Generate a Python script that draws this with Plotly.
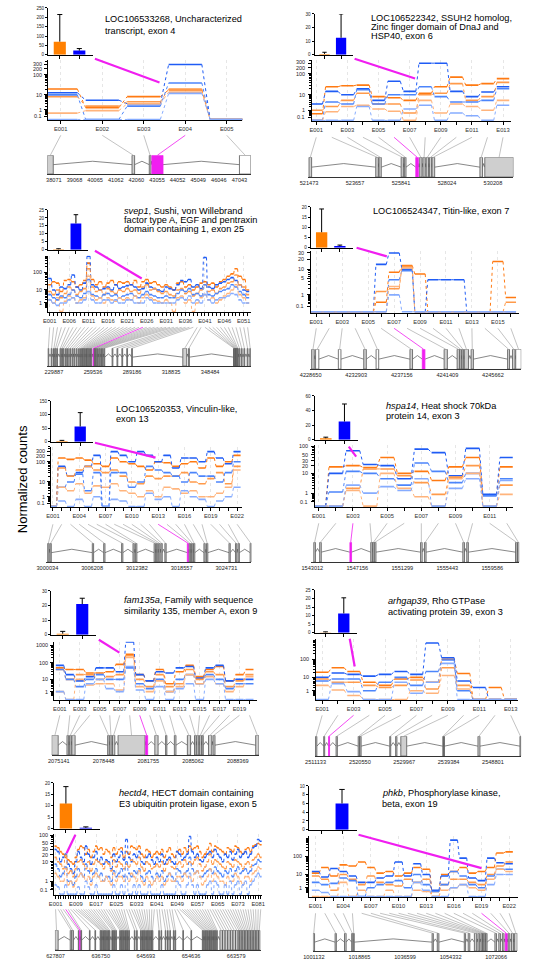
import numpy as np
import plotly.graph_objects as go

W, H = 547, 970

# ======================= DATA =======================
# ---- Panel 1
p1_title = ["LOC106533268, Uncharacterized", "transcript, exon 4"]
p1_bar = [70, 22]
p1_bar_err = [145, 11]
p1_bar_ticks = [0, 50, 100, 150, 200, 250]
p1_orange = [[20, 1.5, 8, 18, 0], [8, 2, 4, 20, 0], [0.4, 0.8, 3, 14, 0]]
p1_blue = [[13, 5, 3, 300, 0], [10, 0, 2, 40, 0], [0, 0, 0, 12, 0]]
p1_yticks = [0.1, 1, 10, 100, 200, 300]
p1_exons = [(37756, 38040), (41848, 41974), (42683, 42762), (42809, 43347), (47043, 47594)]
p1_gticks = [38071, 39068, 40065, 41062, 42060, 43055, 44052, 45049, 46046, 47043]
p1_hl = 4
p1_pointer = (3.38, 42)

# ---- Panel 2
p2_title = ["LOC106522342, SSUH2 homolog,", "Zinc finger domain of DnaJ and", "HSP40, exon 6"]
p2_bar = [0.6, 12.5]
p2_bar_err = [1.2, 17.5]
p2_bar_ticks = [0, 10, 20, 30]
p2_orange = [
    [0.4, 25, 28, 30, 8, 7, 5, 12, 25, 70, 30, 35, 60],
    [1, 2, 5, 12, 3, 3, 0.5, 10, 12, 35, 5, 8, 40],
    [0, 0.7, 2, 2.5, 1.3, 0.8, 0, 5, 0.5, 3, 2, 1, 5],
]
p2_blue = [
    [3, 15, 10, 20, 5, 45, 15, 300, 300, 15, 8, 14, 25],
    [0, 4, 3, 18, 3, 10, 10, 25, 8, 4, 4, 5, 20],
    [0, 0, 0, 2, 0, 0, 1.3, 2.5, 0, 0.5, 0.2, 0, 2.5],
]
p2_yticks = [0.1, 1, 10, 100, 200, 300]
p2_exons = [(521473, 521597), (524642, 524766), (524797, 524905), (525848, 525956), (526003, 526080),
            (526544, 526667), (526729, 526838), (526884, 526992), (527039, 527147), (527193, 527301),
            (527317, 527441), (529590, 529714), (529821, 531182)]
p2_gticks = [521473, 523657, 525841, 528024, 530208]
p2_hl = 6
p2_pointer = (7.35, 61)

# ---- Panel 3
p3_title = ["<i>svep1</i>, Sushi, von Willebrand", "factor type A, EGF and pentraxin", "domain containing 1, exon 25"]
p3_bar = [0.3, 16.5]
p3_bar_err = [0.3, 5.5]
p3_bar_ticks = [0, 5, 10, 15, 20, 25]
p3_orange = [
    [20, 30, 25, 8, 35, 40, 30, 15, 20, 35,
     300, 40, 20, 30, 15, 25, 35, 20, 30, 25,
     30, 20, 35, 15, 30, 40, 25, 30, 20, 15,
     20, 15, 10, 25, 30, 15, 20, 10, 15, 25,
     30, 20, 25, 15, 30, 40, 60, 80, 150, 60,
     40, 10],
    [8, 5, 10, 3, 6, 15, 10, 5, 8, 12,
     150, 15, 8, 10, 5, 12, 8, 6, 10, 8,
     12, 8, 10, 6, 15, 20, 10, 12, 8, 6,
     8, 5, 4, 10, 12, 6, 8, 4, 6, 10,
     20, 8, 10, 6, 12, 15, 25, 30, 70, 20,
     15, 5],
    [2, 1, 3, 0, 1.5, 4, 3, 1, 2, 3,
     60, 4, 2, 3, 1, 3, 2, 1.5, 3, 2,
     3, 2, 4, 1, 3, 5, 3, 2, 1.5, 1,
     2, 1, 0, 3, 4, 1, 2, 0, 1, 3,
     5, 2, 3, 1, 2, 4, 6, 10, 20, 5,
     3, 1],
]
p3_blue = [
    [45, 10, 5, 15, 12, 20, 70, 15, 10, 25,
     700, 20, 15, 10, 12, 15, 10, 20, 12, 15,
     18, 20, 15, 10, 12, 25, 15, 12, 10, 8,
     15, 12, 10, 20, 35, 30, 40, 15, 20, 12,
     600, 15, 12, 20, 25, 30, 40, 50, 35, 20,
     10, 8],
    [5, 3, 2, 4, 3, 5, 10, 4, 3, 6,
     40, 5, 4, 3, 5, 6, 4, 5, 3, 4,
     5, 6, 4, 3, 5, 8, 5, 4, 3, 3,
     4, 3, 3, 6, 10, 8, 12, 5, 6, 4,
     20, 5, 4, 6, 8, 10, 12, 20, 15, 8,
     5, 3],
    [2, 1, 0.5, 1, 1, 2, 3, 1, 1, 2,
     8, 2, 1, 1, 2, 2, 1, 2, 1, 1,
     2, 2, 1, 1, 1, 3, 2, 1, 1, 1,
     1, 1, 1, 2, 3, 2, 4, 1, 2, 1,
     5, 2, 1, 2, 3, 3, 4, 6, 5, 2,
     1, 1],
]
p3_yticks = [1, 10, 100]
p3_exons = [(225386, 225986), (227857, 228457), (229587, 230187), (230823, 231423), (232058, 232658),
            (234529, 235129), (235765, 236365), (237000, 237600), (238730, 239330), (240213, 240813),
            (241943, 242543), (243672, 244272), (245155, 245755), (246885, 247485), (248615, 249215),
            (250096, 250696), (251085, 251685), (252073, 252673), (253062, 253662), (254050, 254650),
            (255038, 255638), (256027, 256627), (257015, 257615), (258004, 258604), (259600, 260200),
            (260500, 261000), (260969, 261569), (261958, 262558), (262946, 263546), (264181, 264781),
            (265417, 266017), (266652, 267252), (267888, 268488), (274065, 274665), (277772, 278372),
            (281478, 282078), (285185, 285785), (288891, 289491), (327740, 330700), (332133, 332733),
            (366232, 366832), (366726, 367326), (367220, 367820), (367715, 368315), (368209, 368809),
            (368703, 369303), (369197, 369797), (370434, 371034), (372164, 372764), (374141, 374741),
            (376612, 377212), (378588, 379188)]
p3_gticks = [229887, 259536, 289186, 318835, 348484]
p3_hl = 25
p3_pointer = (24.7, 45)

# ---- Panel 4
p4_title = ["LOC106524347, Titin-like, exon 7"]
p4_bar = [7.6, 0.8]
p4_bar_err = [11.4, 0.5]
p4_bar_ticks = [0, 5, 10, 15, 20]
p4_orange = [
    [0, 0, 0, 0, 0, 0.3, 8, 13, 7, 0, 0, 0, 0, 0, 17, 0.7],
    [0, 0, 0, 0, 0, 1.5, 2, 12, 0, 0, 0, 0, 0, 0, 0, 0.3],
    [0, 0, 0, 0, 0, 0, 2.5, 11, 0, 0, 0, 0, 0, 0, 0, 0],
]
p4_blue = [
    [0, 0, 0, 0, 0, 14, 30, 10, 0, 4.5, 4.5, 4.5, 0, 0, 0, 0],
    [0, 0, 0, 0, 0, 0, 4.5, 9, 0, 0, 0, 0, 0, 0, 0, 0],
    [0, 0, 0, 0, 0, 0, 1, 0, 0, 0, 0, 0, 0, 0, 0, 0],
]
p4_yticks = [0.1, 1, 5, 10, 20, 30]
p4_exons = [(4228741, 4228984), (4229106, 4229410), (4231232, 4231475), (4233602, 4233845), (4234756, 4234999),
            (4237916, 4238159), (4239070, 4239313), (4241106, 4241410), (4242321, 4242534), (4242564, 4242716),
            (4242777, 4242929), (4242990, 4243385), (4243627, 4243840), (4247030, 4247212), (4247486, 4247729),
            (4247790, 4248306)]
p4_gticks = [4228650, 4232903, 4237156, 4241409, 4245662]
p4_hl = 7
p4_pointer = (6.44, 24)

# ---- Panel 5
p5_title = ["LOC106520353, Vinculin-like,", "exon 13"]
p5_bar = [3, 56]
p5_bar_err = [2, 51]
p5_bar_ticks = [0, 50, 100, 150]
p5_orange = [
    [0, 150, 130, 150, 120, 80, 60, 150, 100, 80, 60, 40, 100, 90, 60, 80, 100, 50, 150, 60, 100, 200],
    [0, 50, 20, 40, 60, 40, 30, 40, 20, 10, 8, 20, 15, 20, 20, 30, 10, 8, 15, 30, 8, 60],
    [0, 5, 3, 8, 2, 6, 5, 8, 3, 2, 1, 3, 1, 5, 4, 2, 3, 1, 1, 2, 5, 40],
]
p5_blue = [
    [0, 60, 20, 30, 60, 200, 0, 300, 200, 100, 300, 200, 100, 200, 50, 150, 150, 100, 300, 150, 80, 300],
    [0, 5, 10, 25, 3, 30, 0, 30, 30, 5, 10, 60, 40, 30, 20, 10, 30, 20, 20, 10, 30, 100],
    [0, 0.3, 0, 0.5, 0, 1, 0, 0.5, 0.3, 0, 0, 2, 0.5, 1, 0, 3, 1, 0.5, 0, 0.3, 1, 5],
]
p5_yticks = [0.1, 1, 10, 100, 200, 300]
p5_exons = [(3000079, 3000259), (3000393, 3000573), (3006230, 3006410), (3007802, 3007982), (3010271, 3010451),
            (3011843, 3012023), (3012202, 3012382), (3014761, 3014941), (3015075, 3015255), (3015390, 3015570),
            (3015704, 3015884), (3016243, 3016423), (3019341, 3019521), (3019610, 3019790), (3019925, 3020105),
            (3020194, 3020374), (3021631, 3021811), (3021990, 3022170), (3025088, 3025268), (3025986, 3026166),
            (3026345, 3026525), (3028007, 3028187)]
p5_gticks = [3000034, 3006208, 3012382, 3018557, 3024731]
p5_hl = 13
p5_pointer = (12.7, 158)

# ---- Panel 6
p6_title = ["<i>hspa14</i>, Heat shock 70kDa", "protein 14, exon 3"]
p6_bar = [2, 25]
p6_bar_err = [1.5, 24]
p6_bar_ticks = [0, 20, 40, 60]
p6_orange = [
    [0, 18, 20, 17, 40, 10, 12, 5, 18, 40, 0.7, 18],
    [0, 0, 2, 15, 15, 8, 4, 0.8, 7, 20, 0, 3],
    [0, 0, 1.5, 0, 10, 2, 0.5, 0, 6, 10, 0, 0.8],
]
p6_blue = [
    [0, 10, 70, 22, 20, 6, 80, 60, 8, 85, 0.8, 40],
    [0, 1.2, 12, 10, 6, 3, 25, 12, 4, 10, 0.6, 6],
    [0, 0, 3, 1, 2.5, 1.5, 6, 0, 2, 6, 0, 5],
]
p6_yticks = [0.1, 1, 10, 20, 30, 50, 100]
p6_exons = [(1543147, 1543297), (1543686, 1543836), (1546473, 1546623), (1548392, 1548542), (1548571, 1548721),
            (1548721, 1548871), (1552977, 1553127), (1553337, 1553487), (1556873, 1557023), (1557233, 1557383),
            (1561728, 1561878), (1561908, 1562058)]
p6_gticks = [1543012, 1547156, 1551299, 1555443, 1559586]
p6_hl = 3
p6_pointer = (3.19, 43)

# ---- Panel 7
p7_title = ["<i>fam135a</i>, Family with sequence", "similarity 135, member A, exon 9"]
p7_bar = [0.7, 21]
p7_bar_err = [1.6, 4]
p7_bar_ticks = [0, 10, 20, 30]
p7_orange = [
    [50, 40, 40, 25, 25, 30, 80, 300, 20, 8, 40, 5, 30, 70, 15, 40, 60, 8, 20, 40],
    [40, 10, 20, 20, 10, 15, 20, 250, 10, 3, 20, 3, 5, 40, 10, 30, 20, 3, 8, 20],
    [1, 0, 10, 4, 5, 5, 1.5, 200, 3, 1, 8, 1, 3, 20, 5, 15, 5, 1, 3, 15],
]
p7_blue = [
    [70, 20, 8, 15, 50, 50, 30, 1500, 20, 8, 30, 25, 50, 60, 12, 50, 70, 8, 10, 10],
    [40, 10, 3, 10, 20, 10, 10, 50, 5, 2, 10, 1, 10, 20, 5, 20, 10, 2, 5, 5],
    [1, 0, 0, 5, 10, 2, 1, 60, 1.5, 0, 3, 0, 2, 5, 0, 10, 5, 0, 0, 0],
]
p7_yticks = [1, 10, 100, 1000]
p7_exons = [(2074612, 2075093), (2075742, 2075863), (2075935, 2076055), (2076103, 2076344), (2078749, 2078869),
            (2078917, 2079061), (2079109, 2079278), (2079518, 2081514), (2081562, 2081707), (2082236, 2082477),
            (2083030, 2083126), (2083679, 2083799), (2084641, 2084881), (2085170, 2085290), (2085338, 2085483),
            (2085531, 2085675), (2085723, 2085819), (2086204, 2086445), (2086541, 2086685), (2089691, 2089932)]
p7_gticks = [2075141, 2078448, 2081755, 2085062, 2088369]
p7_hl = 9
p7_pointer = (6.97, 377)

# ---- Panel 8
p8_title = ["<i>arhgap39</i>, Rho GTPase", "activating protein 39, exon 3"]
p8_bar = [0.2, 11.3]
p8_bar_err = [0.3, 9.1]
p8_bar_ticks = [0, 5, 10, 15, 20, 25]
p8_orange = [
    [20, 35, 22, 5, 3, 8, 10, 5, 100, 17, 0, 2, 0],
    [8, 5, 5, 3, 2, 3, 7, 1.5, 35, 3, 0, 0, 0],
    [3, 1.2, 0.2, 0, 0, 0, 1, 0.5, 13, 1.5, 0, 0, 0],
]
p8_blue = [
    [10, 18, 15, 12, 15, 22, 15, 700, 120, 6, 2, 0, 0],
    [6, 8, 8, 1, 5, 10, 3, 22, 90, 1, 0, 0, 0],
    [0, 4, 0.8, 0, 0, 5, 0.5, 5, 60, 0, 0, 0, 0],
]
p8_yticks = [1, 10, 100]
p8_exons = [(2511133, 2511409), (2512861, 2513068), (2513898, 2514105), (2515488, 2515764), (2520188, 2520464),
            (2520533, 2520810), (2526892, 2527100), (2528137, 2528413), (2529242, 2530487), (2538159, 2538297),
            (2538367, 2538505), (2545624, 2546039), (2554540, 2554748)]
p8_gticks = [2511133, 2520550, 2529967, 2539384, 2548801]
p8_hl = 3
p8_pointer = (3.07, 41)

# ---- Panel 9
p9_title = ["<i>hectd4</i>, HECT domain containing", "E3 ubiquitin protein ligase, exon 5"]
p9_bar = [11, 0.4]
p9_bar_err = [7.4, 0.4]
p9_bar_ticks = [0, 5, 10, 15, 20]
p9_orange = [
    [40, 35, 25, 20, 15, 12, 10, 8, 15, 30,
     40, 35, 20, 30, 15, 25, 40, 30, 35, 20,
     30, 25, 15, 35, 20, 30, 35, 15, 25, 20,
     40, 35, 30, 40, 20, 15, 30, 25, 15, 20,
     25, 20, 30, 15, 25, 35, 20, 15, 25, 30,
     20, 35, 25, 40, 30, 35, 40, 25, 15, 20,
     30, 50, 25, 40, 35, 30, 25, 20, 35, 30,
     25, 40, 35, 25, 20, 30, 35, 25, 40, 45,
     50, 45],
    [15, 10, 8, 5, 18, 3, 4, 2, 5, 10,
     12, 8, 5, 10, 4, 8, 12, 10, 8, 5,
     10, 8, 4, 12, 6, 10, 8, 5, 8, 6,
     12, 10, 8, 15, 6, 4, 10, 8, 5, 6,
     8, 6, 10, 4, 8, 12, 6, 5, 8, 10,
     6, 12, 8, 10, 8, 12, 15, 8, 4, 6,
     10, 20, 8, 12, 10, 8, 6, 5, 10, 8,
     6, 12, 10, 8, 5, 8, 10, 6, 12, 15,
     20, 15],
    [3, 2, 1, 1, 5, 0.5, 1, 0.3, 1, 2,
     3, 2, 1, 2, 0.5, 2, 3, 2, 1, 1,
     2, 1, 0.5, 3, 1, 2, 2, 1, 2, 1,
     3, 2, 1, 4, 1, 0.5, 2, 1, 0.5, 1,
     2, 1, 2, 0.5, 1, 3, 1, 1, 2, 2,
     1, 3, 2, 2, 1, 3, 4, 2, 0.5, 1,
     2, 5, 1, 3, 2, 1, 1, 0.5, 2, 1,
     1, 3, 2, 1, 0.5, 2, 2, 1, 3, 4,
     6, 5],
]
p9_blue = [
    [30, 25, 10, 15, 20, 8, 5, 3, 10, 25,
     15, 10, 40, 20, 8, 15, 25, 10, 15, 8,
     12, 10, 5, 20, 10, 15, 25, 12, 70, 15,
     10, 20, 15, 25, 10, 8, 15, 20, 12, 8,
     15, 10, 20, 8, 12, 15, 10, 8, 25, 20,
     12, 15, 20, 90, 25, 15, 20, 12, 10, 15,
     20, 25, 15, 30, 20, 15, 10, 20, 15, 25,
     12, 20, 30, 15, 20, 25, 15, 20, 35, 40,
     70, 60],
    [8, 5, 2, 3, 6, 1, 1, 0.5, 2, 5,
     3, 2, 8, 4, 1, 3, 5, 2, 3, 1,
     2, 2, 1, 4, 2, 3, 5, 2, 10, 3,
     2, 4, 3, 5, 2, 1, 3, 4, 2, 1,
     3, 2, 4, 1, 2, 3, 2, 1, 5, 4,
     2, 3, 4, 15, 5, 3, 4, 2, 2, 3,
     4, 5, 3, 6, 4, 3, 2, 4, 3, 5,
     2, 4, 6, 3, 4, 5, 3, 4, 7, 8,
     12, 10],
    [0.5, 0.3, 0, 0, 0.5, 0, 0, 0, 0, 0.3,
     0, 0, 1, 0.3, 0, 0, 0.5, 0, 0, 0,
     0, 0, 0, 0.5, 0, 0, 0.5, 0, 2, 0,
     0, 0.5, 0, 0.5, 0, 0, 0, 0.5, 0, 0,
     0, 0, 0.5, 0, 0, 0, 0, 0, 1, 0.5,
     0, 0, 0.5, 3, 0.5, 0, 0.5, 0, 0, 0,
     0.5, 1, 0, 1, 0.5, 0, 0, 0.5, 0, 1,
     0, 0.5, 1, 0, 0.5, 1, 0, 0.5, 1, 2,
     3, 2],
]
p9_yticks = [0.1, 1, 10, 20, 30, 50, 100]
p9_exons = [(627680, 628320), (630707, 631030), (631030, 631352), (632318, 632448), (632576, 632706),
            (632834, 632964), (634509, 634639), (635605, 635735), (636636, 636766), (636894, 637024),
            (637152, 637282), (637410, 637540), (637667, 637797), (637925, 638055), (638183, 638313),
            (638441, 638571), (638956, 639086), (639214, 639344), (639472, 639602), (639730, 639860),
            (640503, 640633), (640761, 640891), (641019, 641149), (641277, 641407), (641534, 641664),
            (641792, 641922), (642050, 642180), (642308, 642438), (643403, 643533), (643855, 643985),
            (644628, 644758), (644886, 645016), (645144, 645274), (645401, 645531), (645659, 645789),
            (645917, 646047), (646175, 646305), (646433, 646563), (646690, 646820), (646948, 647078),
            (648237, 648367), (648688, 648818), (649526, 649656), (649977, 650107), (650428, 650558),
            (651137, 651267), (651460, 651590), (653006, 653136), (654618, 654748), (656873, 657003),
            (657131, 657261), (657389, 657519), (657647, 657777), (657905, 658035), (658162, 658292),
            (658420, 658550), (658678, 658808), (658936, 659066), (659194, 659324), (659451, 659581),
            (659709, 659839), (660354, 660850), (660870, 661380), (661390, 661900), (661910, 662420),
            (662430, 662930), (662940, 663440), (663450, 663960), (663966, 664270), (664280, 664580),
            (664590, 664890), (664900, 665200), (665210, 665510), (665520, 665820), (665830, 666130),
            (666140, 666440), (666450, 666750), (666760, 667060), (667070, 667370), (667380, 667680),
            (667690, 667990), (668000, 668300)]
p9_gticks = [627807, 636750, 645693, 654636, 663579]
p9_hl = 5
p9_pointer = (5.34, 21.5)

# ---- Panel 10
p10_title = ["<i>phkb</i>, Phosphorylase kinase,", "beta, exon 19"]
p10_bar = [0, 6]
p10_bar_err = [0, 3.2]
p10_bar_ticks = [0, 2, 4, 6, 8, 10]
p10_orange = [
    [12, 25, 8, 35, 30, 50, 25, 12, 15, 8, 12, 25, 20, 0.3, 10, 15, 25, 12, 15, 25, 150, 170],
    [8, 5, 0.5, 10, 5, 2, 8, 3, 2, 1.5, 5, 3, 5, 0, 2, 5, 5, 3, 2, 10, 30, 50],
    [0, 0, 0, 3, 0, 0.5, 0, 0, 0.5, 0, 0, 0.5, 0.3, 0, 0.5, 1, 2, 1, 0.5, 5, 20, 15],
]
p10_blue = [
    [15, 7, 22, 15, 8, 3, 3, 6, 8, 50, 8, 40, 10, 0.5, 8, 700, 80, 6, 4, 80, 45, 40],
    [3, 2, 2.5, 6, 4, 0, 1, 2, 3, 4, 1, 10, 2, 0.3, 2, 15, 8, 2, 1, 8, 20, 20],
    [0.5, 0.2, 0, 0, 0, 0, 0, 0, 0, 0, 0, 3, 0.5, 0, 0, 1, 2, 0, 0, 2, 10, 10],
]
p10_yticks = [1, 10, 100]
p10_exons = [(1000752, 1001385), (1009366, 1009872), (1013039, 1013672), (1015826, 1016332), (1016459, 1016839),
             (1047113, 1047620), (1049140, 1049773), (1059654, 1060160), (1061174, 1061807), (1063580, 1064467),
             (1064974, 1065607), (1066114, 1066620), (1066747, 1067254), (1067380, 1067887), (1068013, 1068520),
             (1071567, 1072200), (1073080, 1073713), (1074474, 1075107), (1075614, 1076374), (1076754, 1077387),
             (1078020, 1078780), (1079160, 1080300)]
p10_gticks = [1001132, 1018865, 1036599, 1054332, 1072066]
p10_hl = 19
p10_pointer = (19.0, 23)

# ======================= LAYOUT (pixel boxes per panel) =======================
PANELS = [
    dict(title=p1_title, bar=p1_bar, err=p1_bar_err, bticks=p1_bar_ticks, orange=p1_orange, blue=p1_blue,
         yticks=p1_yticks, exons=p1_exons, gticks=p1_gticks, hl=p1_hl, ptr=p1_pointer, step=1,
         L=dict(bar=(39, 85, 6, 53), title=(95, 17, 12), line=(39, 238, 58, 119), xr=(0.694, 5.376), vmax=500,
                ctop=134, gene=(38.3, 246.7, 154, 173), grange=(37756, 47594), pstart=(87, 57), white=[5])),
    dict(title=p2_title, bar=p2_bar, err=p2_bar_err, bticks=p2_bar_ticks, orange=p2_orange, blue=p2_blue,
         yticks=p2_yticks, exons=p2_exons, gticks=p2_gticks, hl=p2_hl, ptr=p2_pointer, step=2,
         L=dict(bar=(312, 351, 12, 53), title=(368, 16, 9.3), line=(309, 513, 58, 120), xr=(0.705, 13.5), vmax=430,
                ctop=136, gene=(305.3, 515.7, 156, 176), grange=(521427, 531182), pstart=(353, 57), white=[])),
    dict(title=p3_title, bar=p3_bar, err=p3_bar_err, bticks=p3_bar_ticks, orange=p3_orange, blue=p3_blue,
         yticks=p3_yticks, exons=p3_exons, gticks=p3_gticks, hl=p3_hl, ptr=p3_pointer, step=5,
         L=dict(bar=(39, 80, 209, 249), title=(115, 210, 9.3), line=(39, 247, 255, 312), xr=(0.57, 52.9), vmax=747,
                ctop=327, gene=(38.3, 246.7, 348, 366), grange=(224945, 379383), pstart=(87, 250), white=[])),
    dict(title=p4_title, bar=p4_bar, err=p4_bar_err, bticks=p4_bar_ticks, orange=p4_orange, blue=p4_blue,
         yticks=p4_yticks, exons=p4_exons, gticks=p4_gticks, hl=p4_hl, ptr=p4_pointer, step=2,
         L=dict(bar=(308, 351, 206, 247), title=(370, 210, 10), line=(308, 521, 250, 313), xr=(0.57, 16.6), vmax=34.8,
                ctop=328, gene=(307, 523.7, 349, 369), grange=(4228559, 4248306), pstart=(355, 247), white=[2, 3, 5, 16])),
    dict(title=p5_title, bar=p5_bar, err=p5_bar_err, bticks=p5_bar_ticks, orange=p5_orange, blue=p5_blue,
         yticks=p5_yticks, exons=p5_exons, gticks=p5_gticks, hl=p5_hl, ptr=p5_pointer, step=3,
         L=dict(bar=(42, 85, 401, 442), title=(107, 409, 10.3), line=(42, 238, 447, 508), xr=(0.78, 22.6), vmax=512,
                ctop=525, gene=(37.3, 247.3, 544, 563), grange=(2999899, 3028187), pstart=(87, 443), white=[])),
    dict(title=p6_title, bar=p6_bar, err=p6_bar_err, bticks=p6_bar_ticks, orange=p6_orange, blue=p6_blue,
         yticks=p6_yticks, exons=p6_exons, gticks=p6_gticks, hl=p6_hl, ptr=p6_pointer, step=2,
         L=dict(bar=(312, 356, 396, 440), title=(383, 406, 10.3), line=(312, 515, 445, 508), xr=(0.757, 12.35), vmax=115,
                ctop=524, gene=(308.7, 521.7, 543, 563), grange=(1542922, 1562073), pstart=(347, 447), white=[])),
    dict(title=p7_title, bar=p7_bar, err=p7_bar_err, bticks=p7_bar_ticks, orange=p7_orange, blue=p7_blue,
         yticks=p7_yticks, exons=p7_exons, gticks=p7_gticks, hl=p7_hl, ptr=p7_pointer, step=2,
         L=dict(bar=(42, 88, 592, 636), title=(115, 601, 11.3), line=(45, 253, 643, 702), xr=(0.41, 20.75), vmax=1570,
                ctop=717, gene=(42.7, 255, 737, 757), grange=(2074612, 2089932), pstart=(91, 641), white=[])),
    dict(title=p8_title, bar=p8_bar, err=p8_bar_err, bticks=p8_bar_ticks, orange=p8_orange, blue=p8_blue,
         yticks=p8_yticks, exons=p8_exons, gticks=p8_gticks, hl=p8_hl, ptr=p8_pointer, step=2,
         L=dict(bar=(312, 355, 591, 634), title=(385, 602, 11), line=(313, 520, 640, 702), xr=(0.58, 13.44), vmax=1165,
                ctop=717, gene=(312, 523.7, 738, 758), grange=(2510926, 2554817), pstart=(348, 640), white=[])),
    dict(title=p9_title, bar=p9_bar, err=p9_bar_err, bticks=p9_bar_ticks, orange=p9_orange, blue=p9_blue,
         yticks=p9_yticks, exons=p9_exons, gticks=p9_gticks, hl=p9_hl, ptr=p9_pointer, step=8,
         L=dict(bar=(45, 92, 785, 831), title=(110, 795, 11), line=(45, 258, 836, 898), xr=(0.35, 82.45), vmax=113,
                ctop=912, gene=(46, 256.7, 933, 953), grange=(627678, 668411), pstart=(67, 837), white=[])),
    dict(title=p10_title, bar=p10_bar, err=p10_bar_err, bticks=p10_bar_ticks, orange=p10_orange, blue=p10_blue,
         yticks=p10_yticks, exons=p10_exons, gticks=p10_gticks, hl=p10_hl, ptr=p10_pointer, step=3,
         L=dict(bar=(306, 355, 788, 832), title=(379, 795, 11), line=(306, 520, 838, 900), xr=(0.26, 22.92), vmax=1190,
                ctop=916, gene=(310.3, 519.7, 936, 954), grange=(1000752, 1080300), pstart=(357, 837), white=[])),
]

OR = ["#ff7a12", "#ff9a4a", "#ffb47c"]
BL = ["#1f5cf5", "#4c85fb", "#86acff"]
MAG = "#f01ef0"
FONT = "Liberation Sans, Arial, sans-serif"
YLO = -0.05
YLAB_SIZE = 5.4
YLAB_GAP = 5.6


def vst(q):
    return np.arcsinh(np.sqrt(0.3 * np.asarray(q, dtype=float)))


def fmt(t):
    return "%g" % t


def names(n):
    return (("xaxis" if n == 1 else f"xaxis{n}"), ("yaxis" if n == 1 else f"yaxis{n}"),
            ("x" if n == 1 else f"x{n}"), ("y" if n == 1 else f"y{n}"))


def dom_x(a, b):
    return [a / W, b / W]


def dom_y(top, bot):
    return [1 - bot / H, 1 - top / H]


fig = go.Figure()
lay = {}
shapes, annos = [], []
conn_x, conn_y, mag_x, mag_y, ptr_x, ptr_y = [], [], [], [], [], []
axn = 0

for P in PANELS:
    L = P["L"]
    # ---------------- bar inset ----------------
    axn += 1
    xk, yk, xr_, yr_ = names(axn)
    bx0, bx1, by0, by1 = L["bar"]
    bt = P["bticks"]
    lay[xk] = dict(domain=dom_x(bx0, bx1), range=[-0.6, 1.7], anchor=yr_, showline=True, linecolor="black",
                   linewidth=1, ticks="outside", ticklen=3, tickcolor="black", tickvals=[0, 1], ticktext=["", ""],
                   showgrid=False, zeroline=False)
    lay[yk] = dict(domain=dom_y(by0, by1), range=[0, bt[-1]], anchor=xr_, showline=True, linecolor="black",
                   linewidth=1, ticks="outside", ticklen=2, tickcolor="black", tickvals=bt,
                   ticktext=[fmt(t) for t in bt], tickfont=dict(size=4.6, color="#222"), showgrid=False,
                   zeroline=False)
    fig.add_trace(go.Bar(x=[0, 1], y=P["bar"], width=0.62, marker=dict(color=["#ff8000", "#0000ff"], line=dict(width=0)),
                         xaxis=xr_, yaxis=yr_, hoverinfo="skip", cliponaxis=False))
    ex, ey = [], []
    for i, (v, e) in enumerate(zip(P["bar"], P["err"])):
        if e > 0:
            ex += [i, i, None, i - 0.13, i + 0.13, None]
            ey += [v, v + e, None, v + e, v + e, None]
    fig.add_trace(go.Scatter(x=ex, y=ey, mode="lines", line=dict(color="black", width=1), xaxis=xr_, yaxis=yr_,
                             hoverinfo="skip", cliponaxis=False))
    tx, ty, tdy = L["title"]
    for k, s in enumerate(P["title"]):
        annos.append(dict(x=tx / W, y=1 - (ty + k * tdy) / H, xref="paper", yref="paper", xanchor="left",
                          yanchor="middle", text=s, showarrow=False, font=dict(size=9.2, color="black", family=FONT)))

    # ---------------- expression lines ----------------
    axn += 1
    xk, yk, xr_, yr_ = names(axn)
    lx0, lx1, ly0, ly1 = L["line"]
    xr = L["xr"]
    N = len(P["exons"])
    labeled = list(range(1, N + 1, P["step"]))
    yhi = float(vst(L["vmax"]))
    lay[xk] = dict(domain=dom_x(lx0, lx1), range=list(xr), anchor=yr_, showline=True, linecolor="black",
                   linewidth=1, ticks="outside", ticklen=3, tickcolor="black", tickvals=labeled,
                   ticktext=[f"E{i:03d}" for i in labeled], tickfont=dict(size=5.8, color="#333"), tickangle=0,
                   showgrid=True, gridcolor="#e6e6e6", griddash="dot", gridwidth=1, zeroline=False,
                   minor=dict(tickvals=list(range(1, N + 1)), ticks="outside", ticklen=3, tickcolor="black",
                              showgrid=False))
    yt = P["yticks"]
    minor_vals = [m * 10.0 ** k for k in range(-1, 4) for m in range(2, 10)
                  if m * 10.0 ** k < L["vmax"] and m * 10.0 ** k not in yt]
    lay[yk] = dict(domain=dom_y(ly0, ly1), range=[YLO, yhi], anchor=xr_, showline=True, linecolor="black",
                   linewidth=1, ticks="outside", ticklen=3, tickcolor="black", tickvals=[float(v) for v in vst(yt)],
                   ticktext=["" for t in yt], showgrid=False, zeroline=False,
                   minor=dict(tickvals=[float(v) for v in vst(minor_vals)], ticks="outside", ticklen=2,
                              tickcolor="black", showgrid=False))

    def lpx(x):
        return lx0 + (x - xr[0]) / (xr[1] - xr[0]) * (lx1 - lx0)

    def lpy(v):
        return ly1 - (float(vst(v)) - YLO) / (yhi - YLO) * (ly1 - ly0)

    # y tick labels, nudged apart where they would collide
    lab_py = [lpy(t) for t in yt]
    for k in range(1, len(lab_py)):
        d = lab_py[k - 1] - lab_py[k]
        if d < YLAB_GAP:
            extra = YLAB_GAP - d
            lab_py[k - 1] += extra / 2
            lab_py[k] -= extra / 2
    for t, py in zip(yt, lab_py):
        annos.append(dict(x=(lx0 - 4.5) / W, y=1 - py / H, xref="paper", yref="paper", xanchor="right",
                          yanchor="middle", text=fmt(t), showarrow=False,
                          font=dict(size=YLAB_SIZE, color="#222", family=FONT)))

    samples = []
    for j in range(3):
        samples.append((P["orange"][j], OR[j]))
        samples.append((P["blue"][j], BL[j]))
    for vals, col in samples:
        yv = vst(vals)
        hx, hy, dx, dy = [], [], [], []
        for i, v in enumerate(yv, start=1):
            hx += [i - 0.4, i + 0.4, None]
            hy += [float(v), float(v), None]
        for i in range(1, len(yv)):
            dx += [i + 0.4, i + 0.6, None]
            dy += [float(yv[i - 1]), float(yv[i]), None]
        fig.add_trace(go.Scatter(x=dx, y=dy, mode="lines", line=dict(color=col, width=1, dash="dot"),
                                 xaxis=xr_, yaxis=yr_, hoverinfo="skip"))
        fig.add_trace(go.Scatter(x=hx, y=hy, mode="lines", line=dict(color=col, width=1.6),
                                 xaxis=xr_, yaxis=yr_, hoverinfo="skip"))

    # ---------------- gene model ----------------
    axn += 1
    xk, yk, xr_, yr_ = names(axn)
    gx0, gx1, gy0, gy1 = L["gene"]
    g0, g1 = L["grange"]
    gt = P["gticks"]
    lay[xk] = dict(domain=dom_x(gx0, gx1), range=[g0, g1], anchor=yr_, showline=True, linecolor="#333",
                   linewidth=1, ticks="", tickvals=gt, ticktext=[str(t) for t in gt],
                   tickfont=dict(size=5.6, color="#222"), tickangle=0, showgrid=False, zeroline=False)
    lay[yk] = dict(domain=dom_y(gy0, gy1), range=[0, 1], anchor=xr_, visible=False)
    exons = P["exons"]
    ix, iy = [], []
    for i in range(len(exons) - 1):
        a, b = exons[i][1], exons[i + 1][0]
        if b > a:
            ix += [a, (a + b) / 2, b, None]
            iy += [0.5, 0.68, 0.5, None]
    fig.add_trace(go.Scatter(x=ix, y=iy, mode="lines", line=dict(color="#555", width=0.7), xaxis=xr_, yaxis=yr_,
                             hoverinfo="skip"))
    for i, (s, e) in enumerate(exons, start=1):
        if i == P["hl"]:
            fc, lc = MAG, MAG
        elif i in L["white"]:
            fc, lc = "white", "#555"
        else:
            fc, lc = "#cfcfcf", "#555"
        shapes.append(dict(type="rect", xref=xr_, yref=yr_, x0=s, x1=e, y0=0, y1=1, fillcolor=fc,
                           line=dict(color=lc, width=0.8), layer="above"))

    def gpx(g):
        return gx0 + (g - g0) / (g1 - g0) * (gx1 - gx0)

    for i, (s, e) in enumerate(exons, start=1):
        xs = [lpx(i), gpx((s + e) / 2), None]
        ys = [L["ctop"], gy0, None]
        if i == P["hl"]:
            mag_x += xs
            mag_y += ys
        else:
            conn_x += xs
            conn_y += ys
    psx, psy = L["pstart"]
    ptr_x += [psx, lpx(P["ptr"][0]), None]
    ptr_y += [psy, lpy(P["ptr"][1]), None]

# overlay in pixel space for connectors and pointers
axn += 1
xk, yk, xr_, yr_ = names(axn)
lay[xk] = dict(domain=[0, 1], range=[0, W], visible=False, anchor=yr_)
lay[yk] = dict(domain=[0, 1], range=[H, 0], visible=False, anchor=xr_)
fig.add_trace(go.Scatter(x=conn_x, y=conn_y, mode="lines", line=dict(color="#9a9a9a", width=0.6),
                         xaxis=xr_, yaxis=yr_, hoverinfo="skip"))
fig.add_trace(go.Scatter(x=mag_x, y=mag_y, mode="lines", line=dict(color=MAG, width=0.8),
                         xaxis=xr_, yaxis=yr_, hoverinfo="skip"))
fig.add_trace(go.Scatter(x=ptr_x, y=ptr_y, mode="lines", line=dict(color=MAG, width=2.2),
                         xaxis=xr_, yaxis=yr_, hoverinfo="skip"))

annos.append(dict(x=13 / W, y=1 - 480 / H, xref="paper", yref="paper", xanchor="center", yanchor="middle",
                  text="Normalized counts", textangle=-90, showarrow=False,
                  font=dict(size=13, color="black", family=FONT)))

fig.update_layout(width=W, height=H, margin=dict(l=0, r=0, t=0, b=0), paper_bgcolor="white",
                  plot_bgcolor="rgba(0,0,0,0)", showlegend=False, hovermode=False,
                  font=dict(family=FONT, color="#222"), shapes=shapes, annotations=annos, **lay)

fig.write_html("out.html", config={"displayModeBar": False, "staticPlot": True},
               post_script="document.body.style.margin='0px';document.body.style.overflow='hidden';")
